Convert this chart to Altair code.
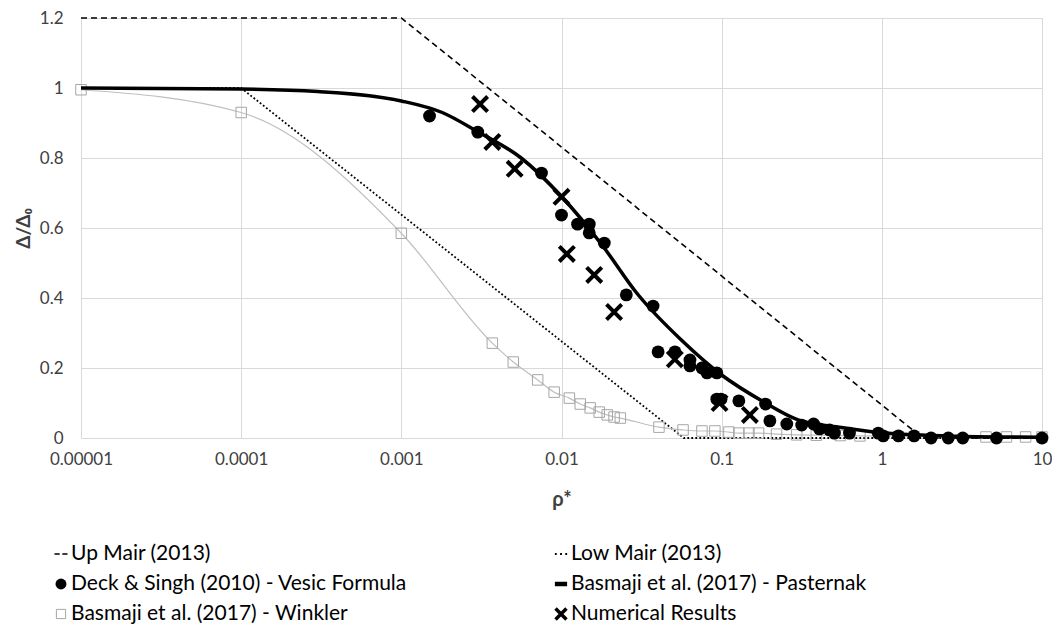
import altair as alt
import pandas as pd

# ---------------- data ----------------
up_x = [0.00001, 0.001, 1.8, 10]
up_y = [1.2, 1.2, 0.0, 0.0]

low_x = [0.00001, 0.0001, 0.058, 10]
low_y = [1.0, 1.0, 0.0, 0.0]

past_x = [0.00001, 0.0001, 0.0003, 0.001, 0.0018, 0.003, 0.0056, 0.01, 0.018,
          0.03, 0.056, 0.1, 0.18, 0.3, 0.56, 1, 3, 10]
past_y = [1.0, 0.997, 0.99, 0.963, 0.93, 0.875, 0.80, 0.69, 0.55,
          0.41, 0.28, 0.18, 0.105, 0.052, 0.03, 0.015, 0.005, 0.002]

wink_x = [0.00001, 0.0001, 0.001, 0.0037, 0.0050, 0.0071, 0.0090, 0.0112, 0.0131,
          0.0151, 0.0172, 0.0193, 0.0213, 0.0233, 0.0406, 0.0574, 0.0753, 0.0907,
          0.111, 0.128, 0.148, 0.17, 0.22, 0.294, 0.39, 0.55, 0.73, 4.47, 6.0, 7.9, 10]
wink_y = [0.995, 0.93, 0.585, 0.271, 0.217, 0.166, 0.131, 0.114, 0.097,
          0.086, 0.074, 0.066, 0.060, 0.057, 0.031, 0.023, 0.020, 0.020,
          0.017, 0.014, 0.014, 0.014, 0.011, 0.009, 0.008, 0.007, 0.006, 0.003, 0.003, 0.003, 0.003]

deck_x = [0.0015, 0.0030, 0.0075, 0.0100, 0.0126, 0.0149, 0.0149, 0.0185, 0.0254,
          0.0373, 0.0401, 0.0511, 0.0634, 0.0634, 0.0753, 0.081, 0.0933, 0.0933,
          0.099, 0.128, 0.188, 0.2, 0.255, 0.316, 0.375, 0.408, 0.471, 0.506, 0.628,
          0.95, 1.02, 1.27, 1.59, 2.03, 2.6, 3.2, 5.2, 10]
deck_y = [0.92, 0.874, 0.757, 0.637, 0.611, 0.611, 0.586, 0.557, 0.409,
          0.377, 0.246, 0.246, 0.223, 0.206, 0.2, 0.186, 0.186, 0.111,
          0.111, 0.106, 0.097, 0.049, 0.04, 0.037, 0.04, 0.026, 0.023, 0.014, 0.014,
          0.014, 0.006, 0.006, 0.006, 0.0, 0.0, 0.0, 0.0, 0.0]

num_x = [0.0031, 0.0037, 0.0051, 0.0100, 0.0108, 0.0160, 0.0213, 0.0510, 0.097, 0.150]
num_y = [0.954, 0.846, 0.769, 0.689, 0.526, 0.466, 0.36, 0.225, 0.10, 0.066]

x_ticks = [0.00001, 0.0001, 0.001, 0.01, 0.1, 1, 10]
y_ticks = [0, 0.2, 0.4, 0.6, 0.8, 1.0, 1.2]

legend_labels = ["Up Mair (2013)", "Low Mair (2013)",
                 "Deck & Singh (2010) - Vesic Formula", "Basmaji et al. (2017) - Pasternak",
                 "Basmaji et al. (2017) - Winkler", "Numerical Results"]
legend_col = [0, 1, 0, 1, 0, 1]
legend_row = [0, 0, 1, 1, 2, 2]

# ---------------- styling ----------------
FONT = "Lato"
GRID = "#d9d9d9"
GREY = "#a6a6a6"
TXT = "#404040"
XPATH = "M-1,-1L1,1M-1,1L1,-1"

xscale = alt.Scale(type="log", domain=[0.00001, 10], nice=False)
yscale = alt.Scale(domain=[0, 1.2], nice=False)

xaxis = alt.Axis(values=x_ticks, format="~g", title="ρ*", grid=True, gridColor=GRID,
                 domain=False, ticks=False, labelPadding=13, labelFontSize=17,
                 labelFont=FONT, labelColor=TXT, titleFont=FONT, titleFontSize=20,
                 titleFontWeight="bold", titleColor=TXT, titlePadding=22,
                 labelFlush=False)
yaxis = alt.Axis(values=y_ticks, format="~g", title="Δ/Δ₀", grid=True, gridColor=GRID,
                 domain=False, ticks=False, labelPadding=18, labelFontSize=17,
                 labelFont=FONT, labelColor=TXT, titleFont=FONT, titleFontSize=19,
                 titleFontWeight="bold", titleColor=TXT, titlePadding=6)


def X(f="x"):
    return alt.X(f"{f}:Q", scale=xscale, axis=xaxis)


def Y(f="y"):
    return alt.Y(f"{f}:Q", scale=yscale, axis=yaxis)


up_df = pd.DataFrame({"x": up_x, "y": up_y, "o": range(len(up_x))})
low_df = pd.DataFrame({"x": low_x, "y": low_y, "o": range(len(low_x))})
past_df = pd.DataFrame({"x": past_x, "y": past_y, "o": range(len(past_x))})
wink_df = pd.DataFrame({"x": wink_x, "y": wink_y, "o": range(len(wink_x))})
deck_df = pd.DataFrame({"x": deck_x, "y": deck_y})
num_df = pd.DataFrame({"x": num_x, "y": num_y})

up = alt.Chart(up_df).mark_line(color="black", strokeWidth=1.6, strokeDash=[6, 4]).encode(
    x=X(), y=Y(), order="o:Q")
low = alt.Chart(low_df).mark_line(color="black", strokeWidth=1.8, strokeDash=[1.8, 2.2]).encode(
    x=X(), y=Y(), order="o:Q")
wline = alt.Chart(wink_df).mark_line(color="#bfbfbf", strokeWidth=1.2, interpolate="monotone").encode(
    x=X(), y=Y(), order="o:Q")
wpts = alt.Chart(wink_df).mark_point(shape="square", filled=False, color=GREY, strokeWidth=1,
                                     size=110, opacity=1).encode(x=X(), y=Y())
past = alt.Chart(past_df).mark_line(color="black", strokeWidth=3.5, interpolate="monotone").encode(
    x=X(), y=Y(), order="o:Q")
deck = alt.Chart(deck_df).mark_circle(color="black", size=165, opacity=1).encode(x=X(), y=Y())
num = alt.Chart(num_df).mark_point(shape=XPATH, filled=False, color="black", strokeWidth=4,
                                   size=230, opacity=1).encode(x=X(), y=Y())

main = alt.layer(up, low, wline, wpts, past, deck, num)

# ---------------- legend ----------------
leg_df = pd.DataFrame({"label": legend_labels, "col": legend_col, "row": legend_row})
lx = alt.X("col:O", axis=None, scale=alt.Scale(type="point", range=[-20, 480], padding=0))
ly = alt.Y("row:O", axis=None, scale=alt.Scale(type="point", range=[536, 596], padding=0))


def sym(label, **mk):
    return alt.Chart(leg_df).transform_filter(alt.datum.label == label).mark_point(
        opacity=1, **mk).encode(x=lx, y=ly)


leg_syms = [
    sym(legend_labels[0], shape="M-1,0H-0.2M0.2,0H1", filled=False, stroke="black",
        strokeWidth=1.6, size=170),
    sym(legend_labels[1], shape="M-1,0H-0.7M-0.15,0H0.15M0.7,0H1", filled=False,
        stroke="black", strokeWidth=1.8, size=150),
    sym(legend_labels[2], shape="circle", filled=True, fill="black", strokeWidth=0, size=120),
    sym(legend_labels[3], shape="M-1,0H1", filled=False, stroke="black", strokeWidth=4.5,
        size=150),
    sym(legend_labels[4], shape="square", filled=False, stroke=GREY, strokeWidth=1, size=85),
    sym(legend_labels[5], shape=XPATH, filled=False, stroke="black", strokeWidth=3.5, size=120),
]
leg_txt = alt.Chart(leg_df).mark_text(align="left", baseline="middle", dx=10, font=FONT,
                                      fontSize=21, color="black").encode(
    x=lx, y=ly, text="label:N")
legend = alt.layer(*leg_syms, leg_txt)

chart = alt.layer(main, legend).resolve_scale(
    x="independent", y="independent"
).properties(
    width=961, height=420, padding={"left": 6, "top": 1, "right": 0, "bottom": 0}
).configure_view(stroke=None)

chart.save("out.html", embed_options={"renderer": "svg", "actions": False})
